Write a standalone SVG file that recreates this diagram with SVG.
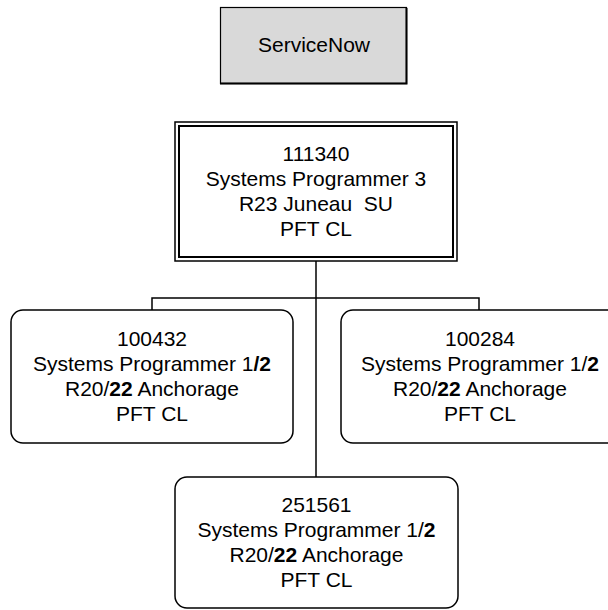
<svg xmlns="http://www.w3.org/2000/svg" width="608" height="610" viewBox="0 0 608 610">
<style>
  text { font-family: "Liberation Sans", Arial, sans-serif; font-size: 21px; fill: #000; text-anchor: middle; }
  .b { font-weight: bold; }
  .box { fill: #fff; stroke: #000; stroke-width: 1.5; }
  .conn { fill: none; stroke: #000; stroke-width: 1.5; }
</style>
<rect width="608" height="610" fill="#fff"/>
<g id="connectors">
  <line class="conn" x1="316" y1="261" x2="316" y2="477"/>
  <polyline class="conn" points="152,310 152,298 479,298 479,310"/>
</g>
<g id="servicenow">
  <rect x="220.5" y="7.5" width="186" height="76" fill="#d9d9d9" stroke="#000" stroke-width="1.2"/>
  <polyline points="406.5,8 406.5,83.5 220,83.5" fill="none" stroke="#000" stroke-width="2"/>
  <text x="314" y="52">ServiceNow</text>
</g>
<g id="n111340">
  <rect x="175" y="122" width="282" height="139" fill="#fff" stroke="#000" stroke-width="1.5"/>
  <rect x="179" y="126" width="274" height="131" fill="none" stroke="#000" stroke-width="2"/>
  <text x="316" y="161">111340</text>
  <text x="316" y="186">Systems Programmer 3</text>
  <text x="316" y="211" xml:space="preserve">R23 Juneau  SU</text>
  <text x="316" y="236">PFT CL</text>
</g>
<g id="n100432">
  <rect class="box" x="11" y="310" width="282" height="133" rx="12"/>
  <text x="152" y="346">100432</text>
  <text x="152" y="371">Systems Programmer 1<tspan class="b">/2</tspan></text>
  <text x="152" y="396">R20/<tspan class="b">22</tspan> Anchorage</text>
  <text x="152" y="421">PFT CL</text>
</g>
<g id="n100284">
  <rect class="box" x="341" y="310" width="282" height="133" rx="12"/>
  <text x="480" y="346">100284</text>
  <text x="480" y="371">Systems Programmer 1/<tspan class="b">2</tspan></text>
  <text x="480" y="396">R20/<tspan class="b">22</tspan> Anchorage</text>
  <text x="480" y="421">PFT CL</text>
</g>
<g id="n251561">
  <rect class="box" x="175" y="477" width="283" height="131" rx="12"/>
  <text x="316.5" y="512">251561</text>
  <text x="316.5" y="537">Systems Programmer 1/<tspan class="b">2</tspan></text>
  <text x="316.5" y="562">R20/<tspan class="b">22</tspan> Anchorage</text>
  <text x="316.5" y="587">PFT CL</text>
</g>
</svg>
